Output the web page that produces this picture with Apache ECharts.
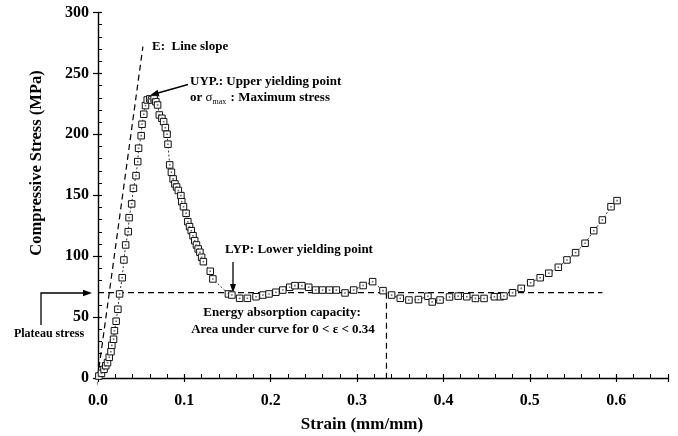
<!DOCTYPE html>
<html><head><meta charset="utf-8">
<script src="https://cdn.jsdelivr.net/npm/echarts@6/dist/echarts.min.js"></script>
<style>html,body{margin:0;padding:0;background:#fff}#c{width:678px;height:436px}</style>
</head><body><div id="c"></div>
<script>
// Measured stress-strain curve
const strain = [0.001,0.004,0.007,0.009,0.011,0.013,0.015,0.016,0.018,0.019,0.021,0.023,0.025,0.028,0.030,0.032,0.035,0.036,0.039,0.041,0.044,0.046,0.047,0.050,0.051,0.053,0.055,0.057,0.060,0.062,0.065,0.067,0.069,0.071,0.074,0.076,0.078,0.080,0.081,0.083,0.085,0.087,0.089,0.091,0.093,0.096,0.097,0.099,0.102,0.104,0.106,0.108,0.110,0.112,0.114,0.116,0.118,0.120,0.122,0.130,0.133,0.151,0.155,0.164,0.173,0.183,0.191,0.198,0.206,0.214,0.222,0.228,0.236,0.244,0.252,0.260,0.268,0.276,0.286,0.296,0.307,0.318,0.330,0.340,0.350,0.360,0.371,0.382,0.387,0.396,0.407,0.417,0.427,0.437,0.447,0.459,0.466,0.470,0.480,0.490,0.501,0.512,0.522,0.533,0.543,0.553,0.564,0.574,0.584,0.594,0.601];
const stress = [1.6,3.8,7.1,10.1,12.6,17.0,21.6,26.8,31.8,38.8,46.6,56.4,69.0,82.3,96.9,109.2,120.1,131.6,142.9,155.7,166.1,177.6,188.6,198.9,208.3,216.5,223.6,228.2,229.1,228.2,229.1,226.8,224.1,215.9,213.2,210.4,205.5,200.1,191.9,174.9,168.9,163.4,159.3,156.8,153.9,149.7,144.7,140.6,135.2,128.3,124.2,120.9,116.8,112.7,109.2,105.9,103.2,99.1,95.5,87.6,81.3,69.0,68.1,65.4,65.4,66.7,68.1,69.0,70.4,72.2,74.5,75.8,75.8,74.5,72.2,72.2,72.2,72.2,69.8,72.2,75.9,79.1,71.7,68.1,65.4,64.0,64.4,67.1,62.4,64.0,66.5,67.2,66.7,65.3,65.3,66.7,66.7,67.3,70.0,73.6,78.2,82.3,86.0,90.9,96.9,102.9,110.6,120.9,129.7,140.6,145.6];
// Reference lines
const eLineX = [-0.002, 0.052];
const eLineY = [-8, 272];
const plateauX = [0, 0.584];
const plateauY = [70, 70];
const energyX = [0.334, 0.334];
const energyY = [70, 0];
// Axes
const xMin = 0, xMax = 0.66, xStep = 0.1;
const yMin = 0, yMax = 300, yStep = 50;
const xTitle = 'Strain (mm/mm)';
const yTitle = 'Compressive Stress (MPa)';

const pairs = (xs, ys) => xs.map((x, i) => [x, ys[i]]);
const FONT = '"Liberation Serif", "Times New Roman", serif';
const chart = echarts.init(document.getElementById('c'), null, {renderer: 'canvas'});
const axisLbl = {fontFamily: FONT, fontWeight: 'bold', fontSize: 16, color: '#000'};
const dashed = {color: '#000', width: 1.2, type: [6, 4]};

const option = {
  animation: false,
  backgroundColor: '#fff',
  grid: {left: 98, right: 10, top: 12.5, bottom: 58},
  xAxis: [{
    type: 'value', min: xMin, max: xMax, interval: xStep,
    axisLine: {lineStyle: {color: '#000', width: 1.4}},
    axisTick: {inside: true, length: 4, lineStyle: {color: '#000', width: 1.2}},
    minorTick: {show: true, splitNumber: 5, length: 4, lineStyle: {color: '#000', width: 1}},
    axisLabel: Object.assign({margin: 15, showMaxLabel: false, formatter: v => v.toFixed(1)}, axisLbl),
    splitLine: {show: false}
  }, {
    type: 'value', min: xMin, max: xMax, interval: xStep, position: 'bottom',
    axisLine: {show: false}, axisLabel: {show: false}, splitLine: {show: false},
    axisTick: {inside: false, length: 4, lineStyle: {color: '#000', width: 1.2}}
  }],
  yAxis: [{
    type: 'value', min: yMin, max: yMax, interval: yStep,
    axisLine: {show: true, lineStyle: {color: '#000', width: 1.4}},
    axisTick: {show: true, inside: true, length: 4, lineStyle: {color: '#000', width: 1.2}},
    minorTick: {show: true, splitNumber: 5, length: 4, lineStyle: {color: '#000', width: 1}},
    axisLabel: Object.assign({margin: 9}, axisLbl),
    splitLine: {show: false}
  }, {
    type: 'value', min: yMin, max: yMax, interval: yStep, position: 'left',
    axisLine: {show: false}, axisLabel: {show: false}, splitLine: {show: false},
    axisTick: {show: true, inside: false, length: 5, lineStyle: {color: '#000', width: 1.2}}
  }],
  series: [
    {type: 'line', data: pairs(eLineX, eLineY), symbol: 'none', clip: false, lineStyle: dashed, z: 2, silent: true},
    {type: 'line', data: pairs(plateauX, plateauY), symbol: 'none', lineStyle: dashed, z: 2, silent: true},
    {type: 'line', data: pairs(energyX, energyY), symbol: 'none', lineStyle: dashed, z: 2, silent: true},
    {type: 'line', data: pairs(strain, stress), symbol: 'rect', symbolSize: 6.5,
      itemStyle: {color: '#fff', borderColor: '#111', borderWidth: 1},
      lineStyle: {color: '#333', width: 1, type: [2, 2]}, z: 4},
    {type: 'scatter', data: pairs(strain, stress), symbol: 'rect', symbolSize: 1.6,
      itemStyle: {color: '#444'}, z: 5, silent: true}
  ],
  graphic: [
    {type: 'text', x: 37, y: 163, rotation: Math.PI / 2,
      style: {text: yTitle, font: 'bold 16.5px ' + FONT, fill: '#000', textAlign: 'center', textVerticalAlign: 'middle'}},
    {type: 'text', x: 362, y: 425,
      style: {text: xTitle, font: 'bold 17px ' + FONT, fill: '#000', textAlign: 'center', textVerticalAlign: 'middle'}},
    {type: 'text', style: {x: 152, y: 47, text: 'E:  Line slope', font: 'bold 13px ' + FONT, fill: '#000', textVerticalAlign: 'middle'}},
    {type: 'text', style: {x: 190, y: 82, text: 'UYP.: Upper yielding point', font: 'bold 13px ' + FONT, fill: '#000', textVerticalAlign: 'middle'}},
    {type: 'text', style: {x: 190, y: 98, text: '{a|or }{g|σ}{s|max}{a| : Maximum stress}', textVerticalAlign: 'middle',
      rich: {a: {font: 'bold 13px ' + FONT, fill: '#000', lineHeight: 16},
             g: {font: '13px ' + FONT, fill: '#000', lineHeight: 16},
             s: {font: '8px ' + FONT, fill: '#000', lineHeight: 16, verticalAlign: 'bottom', padding: [6, 1, 0, 0]}}}},
    {type: 'line', shape: {x1: 188, y1: 84.5, x2: 158, y2: 93}, style: {stroke: '#000', lineWidth: 1.3}},
    {type: 'polygon', shape: {points: [[150.5, 95], [159.5, 96.6], [157.6, 89.8]]}, style: {fill: '#000'}},
    {type: 'text', style: {x: 225, y: 250, text: 'LYP: Lower yielding point', font: 'bold 13px ' + FONT, fill: '#000', textVerticalAlign: 'middle'}},
    {type: 'line', shape: {x1: 233, y1: 262, x2: 233, y2: 285}, style: {stroke: '#000', lineWidth: 1.3}},
    {type: 'polygon', shape: {points: [[233, 293], [230, 284], [236, 284]]}, style: {fill: '#000'}},
    {type: 'text', style: {x: 282, y: 313, text: 'Energy absorption capacity:', font: 'bold 13px ' + FONT, fill: '#000', textAlign: 'center', textVerticalAlign: 'middle'}},
    {type: 'text', style: {x: 283, y: 330, text: 'Area under curve for 0 < ε < 0.34', font: 'bold 13px ' + FONT, fill: '#000', textAlign: 'center', textVerticalAlign: 'middle'}},
    {type: 'text', style: {x: 49, y: 334, text: 'Plateau stress', font: 'bold 12px ' + FONT, fill: '#000', textAlign: 'center', textVerticalAlign: 'middle'}},
    {type: 'polyline', shape: {points: [[41, 325], [41, 293], [84, 293]]}, style: {stroke: '#000', lineWidth: 1.3, fill: null}},
    {type: 'polygon', shape: {points: [[92, 293], [83, 289.8], [83, 296.2]]}, style: {fill: '#000'}}
  ]
};
chart.setOption(option);
</script></body></html>
